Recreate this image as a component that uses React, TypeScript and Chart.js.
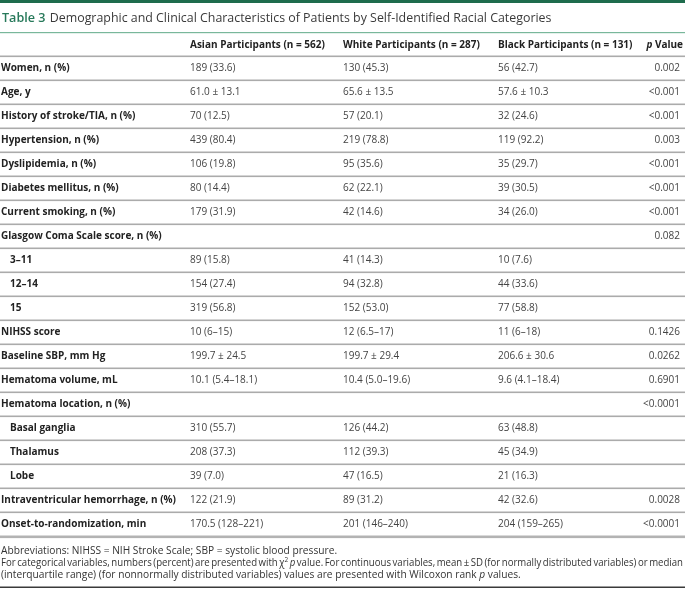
import React, { useEffect, useRef } from 'react';
import { Chart, registerables } from 'chart.js';

Chart.register(...registerables);

// ---------- data ----------
const titleLabel = 'Table 3';
const titleText = 'Demographic and Clinical Characteristics of Patients by Self-Identified Racial Categories';
const columnHeaders = ['Asian Participants (n = 562)', 'White Participants (n = 287)', 'Black Participants (n = 131)'];
const pHeader = ['p', ' Value'];

const rowLabels = [
  'Women, n (%)',
  'Age, y',
  'History of stroke/TIA, n (%)',
  'Hypertension, n (%)',
  'Dyslipidemia, n (%)',
  'Diabetes mellitus, n (%)',
  'Current smoking, n (%)',
  'Glasgow Coma Scale score, n (%)',
  '3–11',
  '12–14',
  '15',
  'NIHSS score',
  'Baseline SBP, mm Hg',
  'Hematoma volume, mL',
  'Hematoma location, n (%)',
  'Basal ganglia',
  'Thalamus',
  'Lobe',
  'Intraventricular hemorrhage, n (%)',
  'Onset-to-randomization, min',
];

const subRows = [
  false, false, false, false, false, false, false, false,
  true, true, true,
  false, false, false, false,
  true, true, true,
  false, false,
];

const asianValues = [
  '189 (33.6)', '61.0 ± 13.1', '70 (12.5)', '439 (80.4)', '106 (19.8)', '80 (14.4)', '179 (31.9)', '',
  '89 (15.8)', '154 (27.4)', '319 (56.8)', '10 (6–15)', '199.7 ± 24.5', '10.1 (5.4–18.1)', '',
  '310 (55.7)', '208 (37.3)', '39 (7.0)', '122 (21.9)', '170.5 (128–221)',
];
const whiteValues = [
  '130 (45.3)', '65.6 ± 13.5', '57 (20.1)', '219 (78.8)', '95 (35.6)', '62 (22.1)', '42 (14.6)', '',
  '41 (14.3)', '94 (32.8)', '152 (53.0)', '12 (6.5–17)', '199.7 ± 29.4', '10.4 (5.0–19.6)', '',
  '126 (44.2)', '112 (39.3)', '47 (16.5)', '89 (31.2)', '201 (146–240)',
];
const blackValues = [
  '56 (42.7)', '57.6 ± 10.3', '32 (24.6)', '119 (92.2)', '35 (29.7)', '39 (30.5)', '34 (26.0)', '',
  '10 (7.6)', '44 (33.6)', '77 (58.8)', '11 (6–18)', '206.6 ± 30.6', '9.6 (4.1–18.4)', '',
  '63 (48.8)', '45 (34.9)', '21 (16.3)', '42 (32.6)', '204 (159–265)',
];
const pValues = [
  '0.002', '<0.001', '<0.001', '0.003', '<0.001', '<0.001', '<0.001', '0.082',
  '', '', '', '0.1426', '0.0262', '0.6901', '<0.0001',
  '', '', '', '0.0028', '<0.0001',
];

type Seg = { t: string; it?: boolean; sup?: boolean };
const footnote1: Seg[] = [{ t: 'Abbreviations: NIHSS = NIH Stroke Scale; SBP = systolic blood pressure.' }];
const footnote2: Seg[] = [
  { t: 'For categorical variables, numbers (percent) are presented with χ' },
  { t: '2', sup: true },
  { t: ' ' },
  { t: 'p', it: true },
  { t: ' value. For continuous variables, mean ± SD (for normally distributed variables) or median' },
];
const footnote3: Seg[] = [
  { t: '(interquartile range) (for nonnormally distributed variables) values are presented with Wilcoxon rank ' },
  { t: 'p', it: true },
  { t: ' values.' },
];

// ---------- layout / style (not data) ----------
const FONT = '"Open Sans", "Noto Sans", sans-serif';
const COL = { label: 1, indent: 10, asian: 190, white: 343, black: 498, pRight: 680, pHeadRight: 683 };
const BODY = 10;
const FOOT = 10.2;

function drawRich(
  ctx: CanvasRenderingContext2D,
  segs: Seg[],
  x: number,
  y: number,
  size: number,
  color: string,
  justifyTo?: number,
) {
  type Piece = { t: string; it?: boolean; sup?: boolean };
  const words: Piece[][] = [[]];
  for (const s of segs) {
    const parts = s.t.split(' ');
    parts.forEach((p, i) => {
      if (i > 0) words.push([]);
      if (p.length) words[words.length - 1].push({ t: p, it: s.it, sup: s.sup });
    });
  }
  const ws = words.filter((w) => w.length);
  const fontFor = (p: Piece) => `${p.it ? 'italic ' : ''}${p.sup ? size * 0.68 : size}px ${FONT}`;
  const widthOf = (w: Piece[]) =>
    w.reduce((a, p) => {
      ctx.font = fontFor(p);
      return a + ctx.measureText(p.t).width;
    }, 0);
  ctx.font = `${size}px ${FONT}`;
  const space = ctx.measureText(' ').width;
  const total = ws.reduce((a, w) => a + widthOf(w), 0);
  let gap = space;
  let sx = 1;
  if (justifyTo !== undefined && ws.length > 1) {
    const avail = justifyTo - x;
    const minGap = space * 0.6;
    const need = total + minGap * (ws.length - 1);
    if (need > avail) {
      sx = avail / need;
      gap = minGap;
    } else {
      gap = (avail - total) / (ws.length - 1);
    }
  }
  ctx.save();
  ctx.translate(x, y);
  ctx.scale(sx, 1);
  let cx = 0;
  ctx.fillStyle = color;
  ctx.textAlign = 'left';
  ctx.textBaseline = 'alphabetic';
  for (const w of ws) {
    for (const p of w) {
      ctx.font = fontFor(p);
      ctx.fillText(p.t, cx, p.sup ? -size * 0.38 : 0);
      cx += ctx.measureText(p.t).width;
    }
    cx += gap;
  }
  ctx.restore();
}

const tablePlugin = {
  id: 'tableDraw',
  afterDraw(chart: any) {
    const ctx: CanvasRenderingContext2D = chart.ctx;
    const xs = chart.scales.x;
    const ys = chart.scales.y;
    const { top, bottom } = chart.chartArea;
    const W = chart.width;
    const band = ys.getPixelForValue(1) - ys.getPixelForValue(0);
    const px = (v: number) => xs.getPixelForValue(v);

    ctx.save();
    // top bar
    ctx.fillStyle = '#1e6c4d';
    ctx.fillRect(0, 0, W, 3);

    // title
    ctx.textBaseline = 'middle';
    ctx.textAlign = 'left';
    ctx.font = `600 12.6px ${FONT}`;
    ctx.fillStyle = '#27795a';
    ctx.fillText(titleLabel, px(COL.label) + 1, 18);
    const tw = ctx.measureText(titleLabel + ' ').width;
    ctx.font = `12.4px ${FONT}`;
    ctx.fillStyle = '#3a3a3a';
    ctx.fillText(titleText, px(COL.label) + 2 + tw, 18);

    // green rule under title
    ctx.fillStyle = '#79b79b';
    ctx.fillRect(0, 32, W, 1.2);

    // header
    const hy = top - 11;
    ctx.font = `bold ${BODY}px ${FONT}`;
    ctx.fillStyle = '#222';
    ctx.fillText(columnHeaders[0], px(COL.asian), hy);
    ctx.fillText(columnHeaders[1], px(COL.white), hy);
    ctx.fillText(columnHeaders[2], px(COL.black), hy);
    ctx.textAlign = 'right';
    const vw = ctx.measureText(pHeader[1]).width;
    ctx.fillText(pHeader[1], px(COL.pHeadRight), hy);
    ctx.font = `italic bold ${BODY}px ${FONT}`;
    ctx.fillText(pHeader[0], px(COL.pHeadRight) - vw, hy);

    // row rules
    ctx.fillStyle = '#ababab';
    for (let i = 0; i < rowLabels.length; i++) {
      const yTop = ys.getPixelForValue(i) - band / 2;
      ctx.fillRect(0, yTop - 0.5, W, 1.6);
    }
    ctx.fillStyle = '#b3b3b3';
    ctx.fillRect(0, bottom - 0.5, W, 2.6);

    // rows
    for (let i = 0; i < rowLabels.length; i++) {
      const cy = ys.getPixelForValue(i);
      ctx.textAlign = 'left';
      ctx.textBaseline = 'middle';
      ctx.font = `bold ${BODY}px ${FONT}`;
      ctx.fillStyle = '#222';
      ctx.fillText(rowLabels[i], px(subRows[i] ? COL.indent : COL.label), cy);
      ctx.font = `${BODY}px ${FONT}`;
      ctx.fillStyle = '#444';
      ctx.fillText(asianValues[i], px(COL.asian), cy);
      ctx.fillText(whiteValues[i], px(COL.white), cy);
      ctx.fillText(blackValues[i], px(COL.black), cy);
      ctx.textAlign = 'right';
      ctx.fillText(pValues[i], px(COL.pRight), cy);
    }

    // footnotes
    drawRich(ctx, footnote1, px(COL.label), bottom + 18, FOOT, '#333');
    drawRich(ctx, footnote2, px(COL.label), bottom + 30, FOOT, '#333', px(683));
    drawRich(ctx, footnote3, px(COL.label), bottom + 42, FOOT, '#333');

    // bottom rule
    ctx.fillStyle = '#3a3a3a';
    ctx.fillRect(0, bottom + 50.5, W, 1.5);
    ctx.restore();
  },
};

export default function App() {
  const ref = useRef<HTMLCanvasElement>(null);
  useEffect(() => {
    const canvas = ref.current!;
    const chart = new Chart(canvas, {
      type: 'scatter',
      data: { datasets: [{ data: [], pointRadius: 0 }] },
      options: {
        responsive: false,
        animation: false,
        devicePixelRatio: 1,
        events: [],
        layout: { padding: { top: 56, bottom: 53, left: 0, right: 0 } },
        plugins: { legend: { display: false }, tooltip: { enabled: false } },
        scales: {
          x: { type: 'linear', min: 0, max: 685, display: false },
          y: { type: 'category', labels: rowLabels, offset: true, display: false },
        },
      } as any,
      plugins: [tablePlugin as any],
    });
    const fonts: any = (document as any).fonts;
    if (fonts && fonts.load) {
      Promise.all([
        fonts.load(`10px "Open Sans"`),
        fonts.load(`bold 10px "Open Sans"`),
        fonts.load(`italic 10px "Open Sans"`),
      ])
        .then(() => chart.update())
        .catch(() => {});
    }
    return () => chart.destroy();
  }, []);
  return (
    <div style={{ position: 'fixed', left: 0, top: 0, width: 685, height: 589, background: '#fff' }}>
      <canvas ref={ref} width={685} height={589} style={{ display: 'block', width: 685, height: 589 }} />
    </div>
  );
}
